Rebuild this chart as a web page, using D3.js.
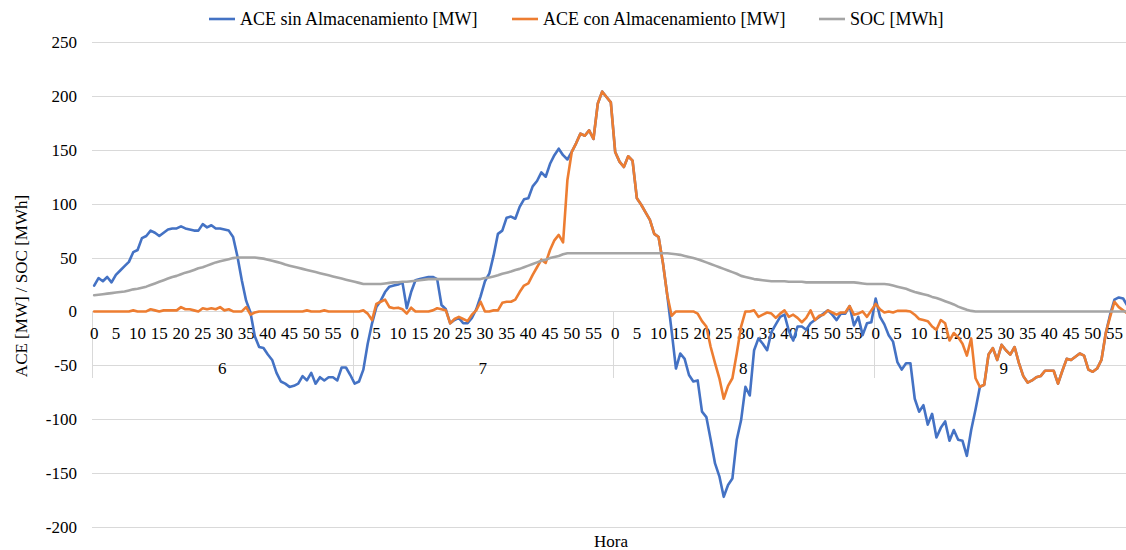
<!DOCTYPE html>
<html>
<head>
<meta charset="utf-8">
<script src="https://cdn.jsdelivr.net/npm/d3@7"></script>
<style>
  body { margin: 0; overflow: hidden; background: #fff; }
  svg { display: block; }
</style>
</head>
<body>
<div id="chart"></div>
<script>
    // Data: one point per minute, hours 6 to 9
    const hours = [6, 7, 8, 9];
    const minuteTicks = [0, 5, 10, 15, 20, 25, 30, 35, 40, 45, 50, 55];
    const yTicks = [-200, -150, -100, -50, 0, 50, 100, 150, 200, 250];
    const seriesNames = ["ACE sin Almacenamiento [MW]", "ACE con Almacenamiento [MW]", "SOC [MWh]"];

    const aceSin = [
        24, 31, 28, 32, 27, 34, 38, 42, 46, 55,
        57, 68, 70, 75, 73, 70, 73, 76, 77, 77,
        79, 77, 76, 75, 75, 81, 78, 80, 77, 77,
        76, 75, 69, 51, 29, 10, -1, -23, -33, -34,
        -40, -45, -57, -65, -67, -70, -69, -67, -60, -64,
        -57, -67, -61, -64, -61, -61, -64, -52, -52, -59,
        -67, -65, -54, -30, -11, 4, 10, 18, 23, 24,
        25, 27, 3, 18, 29, 30, 31, 32, 32, 30,
        6, 2, -11, -8, -6, -11, -11, -6, 2, 14,
        28, 35, 52, 72, 75, 87, 88, 86, 97, 104,
        105, 116, 121, 129, 125, 137, 145, 151, 145, 141,
        148, 156, 165, 163, 168, 160, 193, 204, 199, 194,
        148, 139, 134, 144, 140, 105, 99, 92, 85, 72,
        69, 45, 15, -18, -53, -39, -44, -59, -65, -64,
        -93, -98, -119, -141, -153, -172, -161, -155, -119, -101,
        -70, -78, -36, -25, -30, -36, -19, -12, -5, -3,
        -18, -27, -14, -14, -17, -11, -8, -5, -2, 1,
        -3, -8, -2, -2, 5, -13, -5, -22, -11, -10,
        12, -5, -12, -22, -28, -47, -54, -48, -48, -81,
        -93, -87, -105, -95, -117, -108, -102, -120, -110, -119,
        -120, -134, -110, -91, -70, -68, -40, -34, -45, -31,
        -36, -40, -33, -48, -60, -66, -64, -61, -60, -55,
        -55, -55, -67, -55, -44, -45, -42, -39, -41, -54,
        -56, -53, -45, -20, -3, 11, 13, 12, 5, 0
    ];

    const aceCon = [
        0, 0, 0, 0, 0, 0, 0, 0, 0, 1,
        0, 0, 0, 2, 1, 0, 1, 1, 1, 1,
        4, 2, 2, 1, 0, 3, 2, 3, 2, 4,
        1, 2, 0, 0, 0, 4, -3, -1, 0, 0,
        0, 0, 0, 0, 0, 0, 0, 0, 0, 1,
        0, 0, 0, 1, 0, 0, 0, 0, 0, 0,
        0, 0, 1, -2, -8, 7, 9, 11, 4, 3,
        3.5, 2, -2, 3.5, 0, 0, 0, 0, 1, 3,
        2, 1, -11, -7, -5, -7, -9, -3, 1, 9,
        0, 0, 1, 1, 8, 9, 9, 11, 18, 24,
        26, 34, 41, 48, 45, 57, 66, 71, 64, 122,
        148, 156, 165, 163, 168, 160, 193, 204, 199, 194,
        148, 139, 134, 144, 140, 105, 99, 92, 85, 72,
        69, 45, 15, -4, 0, 0, 0, 0, 0, -2,
        -9, -14, -33, -48, -62, -81, -69, -62, -39, -14,
        0, 0, 1, -5, -3, -1, -2, -6, -2, 1,
        -5, -3, -6, -10, -6, 1, -8, -4, -3, 1,
        -1, -3, -1, -1, 5, -3, -2, 0, -5, 1,
        7, 2, -1, 0, -1, 0.5, 0.5, 0.5, 0, -3,
        -7, -8, -9, -14, -17, -8, -11, -27, -20, -24,
        -30, -41, -25, -62, -70, -68, -40, -34, -45, -31,
        -36, -40, -33, -48, -60, -66, -64, -61, -60, -55,
        -55, -55, -67, -55, -44, -45, -42, -39, -41, -54,
        -56, -53, -45, -20, -5, 9, 4, 1, -2, -3
    ];

    const soc = [
        15, 15.5, 16, 16.5, 17, 17.5, 18, 18.5, 19.5, 20.5,
        21, 22, 23, 24.5, 26, 27.5, 29, 30.5, 32, 33,
        34.5, 36, 37, 38.5, 40, 41, 42.5, 44, 45.5, 46.5,
        47.5, 48.5, 49.5, 50, 50, 50, 50, 50, 49.5, 49,
        48, 47, 46, 45, 43.5, 42.5, 41.5, 40.5, 39.5, 38.5,
        37.5, 36.5, 35.5, 34.5, 33.5, 32.5, 31.5, 30.5, 29.5, 28.5,
        27.5, 26.5, 25.5, 25.5, 25.5, 25.5, 25.5, 26, 26.5, 27,
        27, 27.5, 27.5, 28, 28.5, 29, 29.5, 30, 30, 30,
        30, 30, 30, 30, 30, 30, 30, 30, 30, 30,
        31, 31.5, 32.5, 33.5, 35, 36, 37, 38.5, 39.5, 41,
        42.5, 44, 45.5, 47, 48, 49.5, 50.5, 51.5, 53, 54,
        54, 54, 54, 54, 54, 54, 54, 54, 54, 54,
        54, 54, 54, 54, 54, 54, 54, 54, 54, 54,
        54, 54, 54, 53.5, 53, 52.5, 51.5, 50.5, 49.5, 48.5,
        47, 45.5, 44, 42.5, 41, 39.5, 38, 36.5, 35, 33,
        32, 31, 30, 29.5, 29, 28.5, 28, 28, 28, 28,
        27.5, 27.5, 27.5, 27.5, 27, 27, 27, 27, 27, 27,
        27, 27, 27, 27, 27, 27, 26.5, 26, 25.5, 25.5,
        25.5, 25.5, 25.5, 25, 24, 23, 22, 21, 19.5, 18,
        17, 16, 15, 13.5, 12.5, 11, 9.5, 8, 6.5, 4.5,
        3, 1.5, 0.5, 0, 0, 0, 0, 0, 0, 0,
        0, 0, 0, 0, 0, 0, 0, 0, 0, 0,
        0, 0, 0, 0, 0, 0, 0, 0, 0, 0,
        0, 0, 0, 0, 0, 0, 0, 0, 0, 0
    ];

    const colors = ["#4472C4", "#ED7D31", "#A5A5A5"];

    // every text in the chart uses the same serif face
    function label(sel, size) {
        return sel.style("font-family", "'Liberation Serif'")
            .style("font-size", size + "px")
            .style("fill", "#000");
    }

    function createChart() {
        const width = 1126;
        const height = 550;
        const plotLeft = 92, plotRight = 1134; // the last hour runs past the picture edge
        const plotTop = 42, plotBottom = 527;

        // categories: hour + minute for each point
        const categories = hours.flatMap(h => d3.range(60).map(m => ({ hour: h, minute: m })));

        const svg = d3.select("#chart").append("svg")
            .attr("width", width)
            .attr("height", height);

        const x = d3.scaleBand()
            .domain(d3.range(categories.length))
            .range([plotLeft, plotRight]);
        const cx = i => x(i) + x.bandwidth() / 2;

        const y = d3.scaleLinear()
            .domain([-200, 250])
            .range([plotBottom, plotTop]);

        // horizontal gridlines
        svg.append("g")
            .selectAll("line")
            .data(yTicks)
            .join("line")
            .attr("x1", plotLeft)
            .attr("x2", plotRight)
            .attr("y1", d => Math.round(y(d)) + 0.5)
            .attr("y2", d => Math.round(y(d)) + 0.5)
            .attr("stroke", "#d9d9d9")
            .attr("stroke-width", 1);

        // y tick labels
        svg.append("g")
            .selectAll("text")
            .data(yTicks)
            .join("text")
            .attr("x", 77)
            .attr("y", d => y(d))
            .attr("dy", "0.35em")
            .attr("text-anchor", "end")
            .call(label, 17)
            .text(d => d);

        // separators between the hour groups, below the zero line
        const groupEdges = hours.map((h, k) => x(k * 60));
        svg.append("g")
            .selectAll("line")
            .data(groupEdges)
            .join("line")
            .attr("x1", d => Math.round(d) + 0.5)
            .attr("x2", d => Math.round(d) + 0.5)
            .attr("y1", y(0))
            .attr("y2", 378)
            .attr("stroke", "#d9d9d9")
            .attr("stroke-width", 1);

        // minute labels
        const minuteCats = categories.map((c, i) => ({ ...c, i }))
            .filter(c => minuteTicks.includes(c.minute));
        svg.append("g")
            .selectAll("text")
            .data(minuteCats)
            .join("text")
            .attr("x", d => cx(d.i))
            .attr("y", 339)
            .attr("text-anchor", "middle")
            .call(label, 17)
            .text(d => d.minute);

        // hour labels
        svg.append("g")
            .selectAll("text")
            .data(hours)
            .join("text")
            .attr("x", (h, k) => x(k * 60) + x.bandwidth() * 30)
            .attr("y", 374)
            .attr("text-anchor", "middle")
            .call(label, 17)
            .text(d => d);

        // lines
        const line = d3.line()
            .x((d, i) => cx(i))
            .y(d => y(d));

        [aceSin, aceCon, soc].forEach((s, k) => {
            svg.append("path")
                .datum(s)
                .attr("fill", "none")
                .attr("stroke", colors[k])
                .attr("stroke-width", 2.6)
                .attr("stroke-linejoin", "round")
                .attr("stroke-linecap", "round")
                .attr("d", line);
        });

        // axis titles
        svg.append("text")
            .attr("x", 611)
            .attr("y", 547)
            .attr("text-anchor", "middle")
            .call(label, 17)
            .text("Hora");

        svg.append("text")
            .attr("transform", "translate(27,286) rotate(-90)")
            .attr("text-anchor", "middle")
            .call(label, 17)
            .text("ACE [MW] / SOC [MWh]");

        // legend, items placed where the reference has them
        const legendX = [209, 512, 819];
        const legend = svg.append("g")
            .selectAll("g")
            .data(seriesNames)
            .join("g")
            .attr("transform", (d, k) => `translate(${legendX[k]},0)`);
        legend.append("line")
            .attr("x1", 0).attr("x2", 26)
            .attr("y1", 19).attr("y2", 19)
            .attr("stroke", (d, k) => colors[k])
            .attr("stroke-width", 2.6);
        legend.append("text")
            .attr("x", 31)
            .attr("y", 25)
            .call(label, 18)
            .text(d => d);
    }

    createChart();
</script>
</body>
</html>
